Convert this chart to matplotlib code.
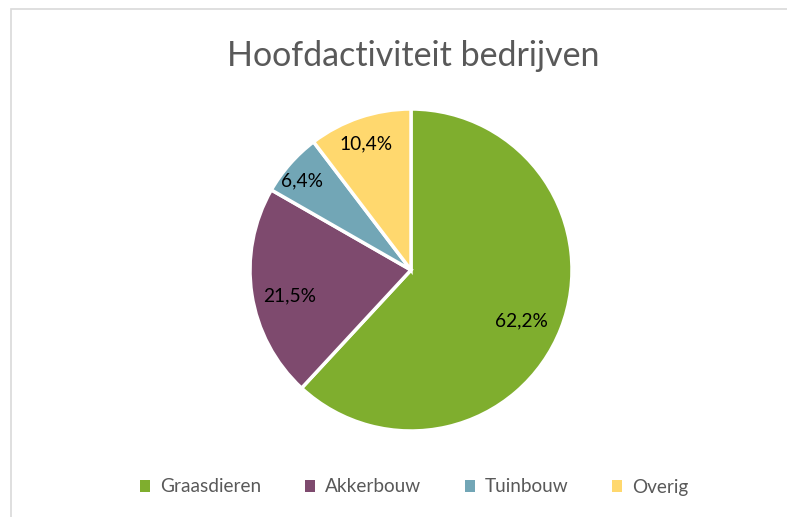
import numpy as np
import matplotlib
matplotlib.use("Agg")
import matplotlib.pyplot as plt
from matplotlib.patches import Rectangle

plt.rcParams['font.family'] = ['Lato', 'DejaVu Sans']

# data
categories = ['Graasdieren', 'Akkerbouw', 'Tuinbouw', 'Overig']
shares = [62.2, 21.5, 6.4, 10.4]
colors = ['#7FAE2E', '#7E4A6E', '#72A6B6', '#FFD86E']
label_dist = [0.74, 0.76, 0.90, 0.87]   # where Excel put each label (fraction of radius)

fig = plt.figure(figsize=(7.87, 5.17), dpi=100)
fig.patch.set_facecolor('white')

# chart frame (only top/left visible in the crop)
fig.add_artist(Rectangle((11 / 787, -0.1), 1.2, 1 - 9 / 517 + 0.1,
                         transform=fig.transFigure, fill=False,
                         edgecolor='#D9D9D9', linewidth=1.2))

# pie centre ~ (411, 270) px, radius ~ 161 px
r = 161
ax = fig.add_axes([(411 - r) / 787, 1 - (270 + r) / 517, 2 * r / 787, 2 * r / 517])
wedges, _ = ax.pie(shares, colors=colors, startangle=90, counterclock=False,
                   wedgeprops=dict(edgecolor='white', linewidth=2.5))
ax.set_aspect('equal')
ax.set_xlim(-1, 1)
ax.set_ylim(-1, 1)

for w, val, d in zip(wedges, shares, label_dist):
    mid = np.deg2rad((w.theta1 + w.theta2) / 2)
    ax.annotate(('%.1f%%' % val).replace('.', ','), (d * np.cos(mid), d * np.sin(mid)),
                xytext=(0, -5), textcoords='offset points',
                ha='center', va='center', fontsize=13.8, color='black')

fig.text(413 / 787, 1 - 56 / 517, 'Hoofdactiviteit bedrijven', ha='center', va='center',
         fontsize=24.5, color='#595959')

handles = [Rectangle((0, 0), 1, 1, facecolor=c) for c in colors]
leg = fig.legend(handles, categories, loc='center', bbox_to_anchor=(414 / 787, 1 - 487 / 517),
                 ncol=4, frameon=False, fontsize=13.7, handlelength=0.55, handleheight=0.55,
                 handletextpad=0.5, columnspacing=2.3, labelcolor='#595959')

fig.savefig('out.png', dpi=100)
